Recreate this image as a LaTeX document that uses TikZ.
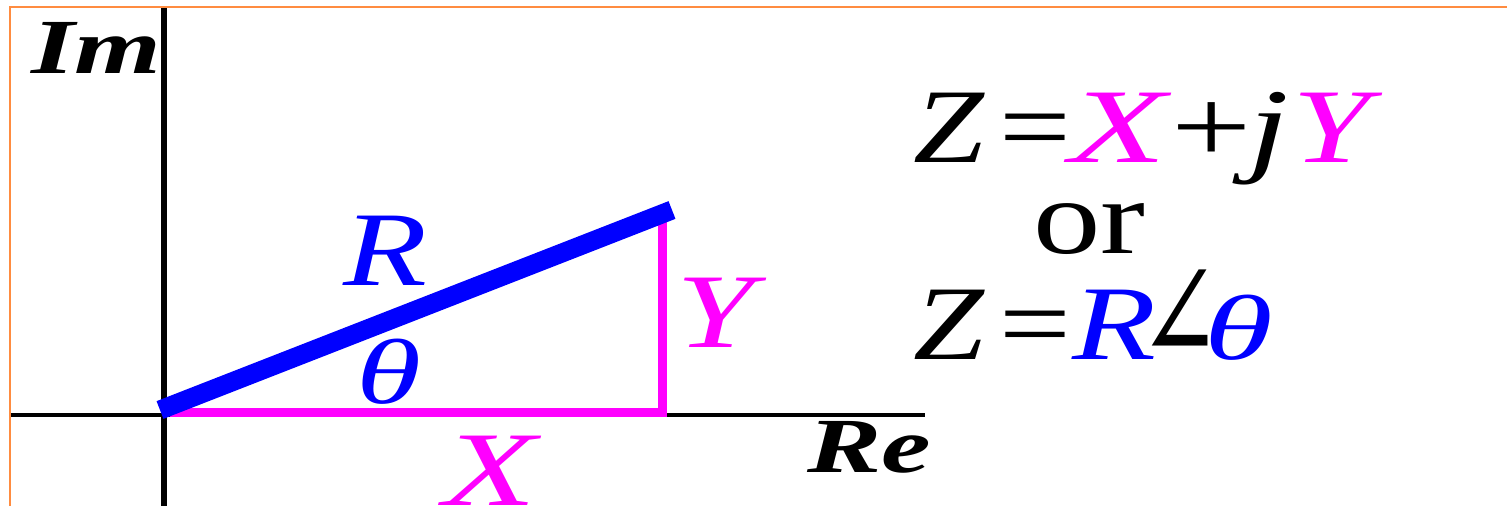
\documentclass[tikz,border=0pt]{standalone}
\usepackage{fontspec}
\setmainfont{Liberation Serif}[FakeStretch=1.2]
\newfontfamily\axfont{Liberation Serif}[FakeStretch=1.43]
\newfontfamily\angfont{DejaVu Serif}[FakeStretch=1.2]
\definecolor{mag}{RGB}{255,0,255}
\definecolor{blu}{RGB}{0,0,255}
\definecolor{framecol}{RGB}{255,140,64}
\begin{document}
\begin{tikzpicture}[x=1pt,y=-1pt,
  lbl/.style={inner sep=0pt, anchor=base west, font=\fontsize{106}{110}\selectfont\itshape},
  eq/.style={inner sep=0pt, anchor=base west, font=\fontsize{106}{110}\selectfont},
  axislbl/.style={inner sep=0pt, anchor=base west, font=\axfont\fontsize{78}{80}\selectfont\bfseries\itshape},
  axisline/.style={black, line width=5pt},
  compline/.style={mag, line width=9.5pt, line join=miter},
  vecline/.style={blu, line width=19pt}]
\useasboundingbox (0,0) rectangle (1507,506);
\fill[white] (0,0) rectangle (1507,506);
% frame (only top and left edges visible)
\coordinate (f1) at (10,506);
\coordinate (f2) at (10,7);
\coordinate (f3) at (1507,7);
\draw[framecol, line width=2pt] (f1) -- (f2) -- (f3);
% axes
\coordinate (xl) at (11,415);
\coordinate (xr) at (925,415);
\coordinate (yt) at (164,8);
\coordinate (yb) at (164,506);
\draw[axisline, line width=4.5pt] (xl) -- (xr);
\draw[axisline, line width=6pt] (yt) -- (yb);
% components
\coordinate (A) at (170,412.5);
\coordinate (C) at (662.5,412.5);
\coordinate (B) at (662.5,219);
\draw[compline] (A) -- (C) -- (B);
% vector
\coordinate (O) at (160,410);
\coordinate (P) at (672,210);
\draw[vecline] (O) -- (P);
% labels
\node[axislbl] (im) at (31,73) {Im};
\node[axislbl] (re) at (807,472) {Re};
\node[lbl, blu] (r) at (343,285) {\scalebox{1.08}[1]{R}};
\node[lbl, blu] (th) at (356,403) {\scalebox{1.04}[0.87]{θ}};
\node[lbl, mag] (y) at (676,347) {\scalebox{1.1}[1]{Y}};
\node[lbl, mag] (x) at (443,505) {\scalebox{1.2}[1]{X}};
% equations
\node[eq] (eq1) at (913,162) {\textit{Z}\kern14.7pt=\kern-2.3pt\textcolor{mag}{\scalebox{1.25}[1]{\textit{X}}}\scalebox{1.12}[1]{+}\kern-3.6pt\scalebox{1.15}[1]{\textit{j}}\kern4pt\textcolor{mag}{\scalebox{1.1}[1]{\textit{Y}}}};
\node[eq] (or) at (1033,253) {\scalebox{1.06}[1]{or}};
\node[eq] (eq2) at (913,359) {\textit{Z}\kern14.7pt=\kern0.6pt\textcolor{blu}{\scalebox{1.08}[1]{\textit{R}}}\kern-17pt\scalebox{0.78}[1.28]{\angfont ∠}\kern-18pt\textcolor{blu}{\scalebox{1.1}[0.87]{\textit{θ}}}};
\end{tikzpicture}
\end{document}
